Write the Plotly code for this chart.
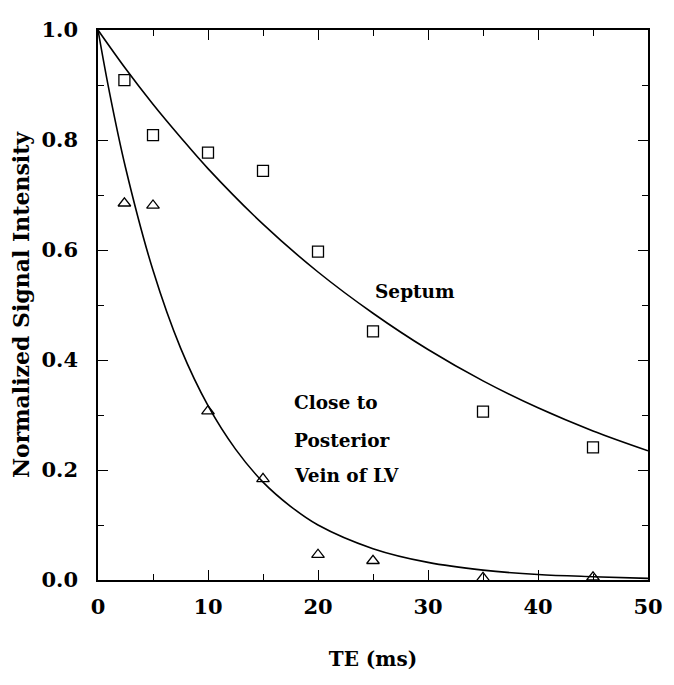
import plotly.graph_objects as go

# measured points (TE in ms)
te_points = [2.4, 5, 10, 15, 20, 25, 35, 45]
septum_points = [0.909, 0.809, 0.777, 0.744, 0.597, 0.452, 0.306, 0.241]
vein_points = [0.685, 0.681, 0.307, 0.184, 0.046, 0.035, 0.004, 0.005]

# fitted decay curves
te_septum_fit = [0, 2.5, 5, 7.5, 10, 15, 20, 25, 30, 35, 40, 45, 50]
septum_fit = [1.0, 0.930, 0.865, 0.805, 0.748, 0.647, 0.560, 0.485, 0.419, 0.362, 0.313, 0.271, 0.235]
te_vein_fit = [0, 1, 2.5, 5, 7.5, 10, 12.5, 15, 17.5, 20, 25, 30, 35, 40, 45, 50]
vein_fit = [1.0, 0.891, 0.750, 0.563, 0.422, 0.317, 0.238, 0.178, 0.134, 0.100, 0.057, 0.032, 0.018, 0.010, 0.006, 0.003]

# labels next to the curves
label_lines = ["Close to", "Posterior", "Vein of LV"]
label_y = [0.322, 0.253, 0.19]

FONT = "DejaVu Serif"

fig = go.Figure()
fig.add_trace(go.Scatter(x=te_septum_fit, y=septum_fit, mode="lines",
                         line=dict(color="black", width=1.6, shape="spline")))
fig.add_trace(go.Scatter(x=te_vein_fit, y=vein_fit, mode="lines",
                         line=dict(color="black", width=1.6, shape="spline")))
fig.add_trace(go.Scatter(x=te_points, y=septum_points, mode="markers",
                         marker=dict(symbol="square-open", size=11, color="black",
                                     line=dict(width=1.3))))
fig.add_trace(go.Scatter(x=te_points, y=vein_points, mode="markers",
                         marker=dict(symbol="triangle-up-open", size=11, color="black",
                                     line=dict(width=1.3))))

fig.add_annotation(x=28.8, y=0.525, text="<b>Septum</b>", showarrow=False,
                   font=dict(family=FONT, size=18.5, color="black"))
for txt, yy in zip(label_lines, label_y):
    fig.add_annotation(x=17.6, y=yy, xanchor="left", text="<b>" + txt + "</b>",
                       showarrow=False, font=dict(family=FONT, size=18.5, color="black"))

axis_common = dict(
    showline=True, linecolor="black", linewidth=1.6, mirror="allticks",
    ticks="inside", ticklen=10, tickwidth=1.3, tickcolor="black",
    showgrid=False, zeroline=False, automargin=False,
    tickprefix="<b>", ticksuffix="</b>",
    tickfont=dict(family=FONT, size=21, color="black"),
)

# the page body adds 8px, so margins are offset accordingly
fig.update_layout(
    width=674, height=685,
    margin=dict(l=90, r=34, t=22, b=113),
    plot_bgcolor="white", paper_bgcolor="white",
    showlegend=False,
    xaxis=dict(axis_common, range=[0, 50], dtick=10, tick0=0, ticklabelstandoff=7,
               minor=dict(dtick=5, ticks="inside", ticklen=6, tickcolor="black"),
               title=dict(text="<b>TE (ms)</b>", standoff=34,
                          font=dict(family=FONT, size=20, color="black"))),
    yaxis=dict(axis_common, range=[0, 1.0], dtick=0.2, tick0=0, tickformat=".1f",
               ticklabelstandoff=14,
               minor=dict(dtick=0.1, ticks="inside", ticklen=6, tickcolor="black"),
               title=dict(text="<b>Normalized Signal Intensity</b>", standoff=14,
                          font=dict(family=FONT, size=22, color="black"))),
)

fig.write_html("out.html")
